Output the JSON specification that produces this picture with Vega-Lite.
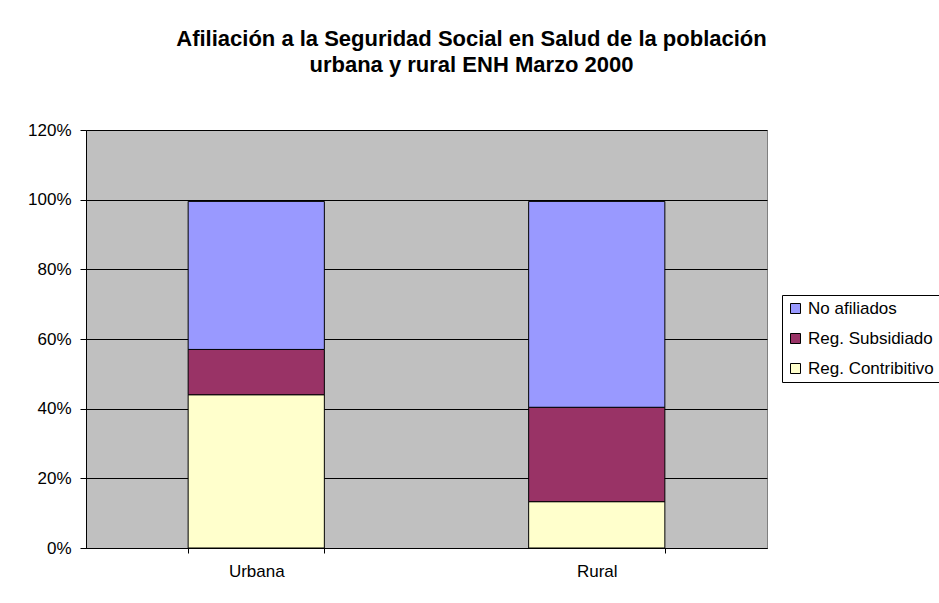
{
  "$schema": "https://vega.github.io/schema/vega-lite/v6.json",
  "width": 681,
  "height": 418,
  "autosize": {"type": "none"},
  "padding": {"left": 86, "top": 130, "right": 172, "bottom": 55},
  "background": "white",
  "title": {
    "text": ["Afiliación a la Seguridad Social en Salud de la población", "urbana y rural ENH Marzo 2000"],
    "font": "Liberation Sans",
    "fontSize": 22,
    "fontWeight": "bold",
    "color": "#000000",
    "anchor": "middle",
    "frame": "group",
    "dx": 45,
    "offset": 44,
    "lineHeight": 26
  },
  "data": {
    "values": [
      {"zona": "Urbana", "tipo": "Reg. Contribitivo", "orden": 1, "valor": 0.440},
      {"zona": "Urbana", "tipo": "Reg. Subsidiado", "orden": 2, "valor": 0.130},
      {"zona": "Urbana", "tipo": "No afiliados", "orden": 3, "valor": 0.425},
      {"zona": "Rural", "tipo": "Reg. Contribitivo", "orden": 1, "valor": 0.133},
      {"zona": "Rural", "tipo": "Reg. Subsidiado", "orden": 2, "valor": 0.271},
      {"zona": "Rural", "tipo": "No afiliados", "orden": 3, "valor": 0.591}
    ]
  },
  "mark": {"type": "bar", "stroke": "#000000", "strokeWidth": 1},
  "encoding": {
    "x": {
      "field": "zona",
      "type": "nominal",
      "sort": ["Urbana", "Rural"],
      "scale": {"paddingInner": 0.6, "paddingOuter": 0.3},
      "axis": {
        "title": null,
        "labelAngle": 0,
        "tickBand": "extent",
        "ticks": true,
        "tickSize": 5,
        "tickColor": "#000000",
        "domainColor": "#000000",
        "labelFont": "Liberation Sans",
        "labelFontSize": 17,
        "labelColor": "#000000",
        "labelPadding": 10,
        "grid": false
      }
    },
    "y": {
      "field": "valor",
      "type": "quantitative",
      "stack": "zero",
      "scale": {"domain": [0, 1.2], "nice": false},
      "axis": {
        "title": null,
        "values": [0, 0.2, 0.4, 0.6, 0.8, 1.0, 1.2],
        "format": ".0%",
        "grid": true,
        "gridColor": "#000000",
        "gridOpacity": 1,
        "gridWidth": 1,
        "tickColor": "#000000",
        "tickSize": 6,
        "domainColor": "#000000",
        "labelFont": "Liberation Sans",
        "labelFontSize": 17,
        "labelColor": "#000000",
        "labelPadding": 9
      }
    },
    "color": {
      "field": "tipo",
      "type": "nominal",
      "scale": {
        "domain": ["No afiliados", "Reg. Subsidiado", "Reg. Contribitivo"],
        "range": ["#9999FF", "#993366", "#FFFFCC"]
      },
      "legend": {
        "title": null,
        "orient": "none",
        "legendX": 696,
        "legendY": 165,
        "direction": "vertical",
        "symbolType": "square",
        "symbolSize": 100,
        "symbolStrokeColor": "#000000",
        "symbolStrokeWidth": 1,
        "symbolOpacity": 1,
        "labelFont": "Liberation Sans",
        "labelFontSize": 17,
        "labelColor": "#000000",
        "labelLimit": 300,
        "labelOffset": 4,
        "rowPadding": 12,
        "strokeColor": "#000000",
        "fillColor": "#FFFFFF",
        "padding": 5
      }
    },
    "order": {"field": "orden", "type": "quantitative", "sort": "ascending"}
  },
  "config": {
    "view": {"fill": "#C0C0C0", "stroke": "#808080", "strokeWidth": 1}
  }
}
